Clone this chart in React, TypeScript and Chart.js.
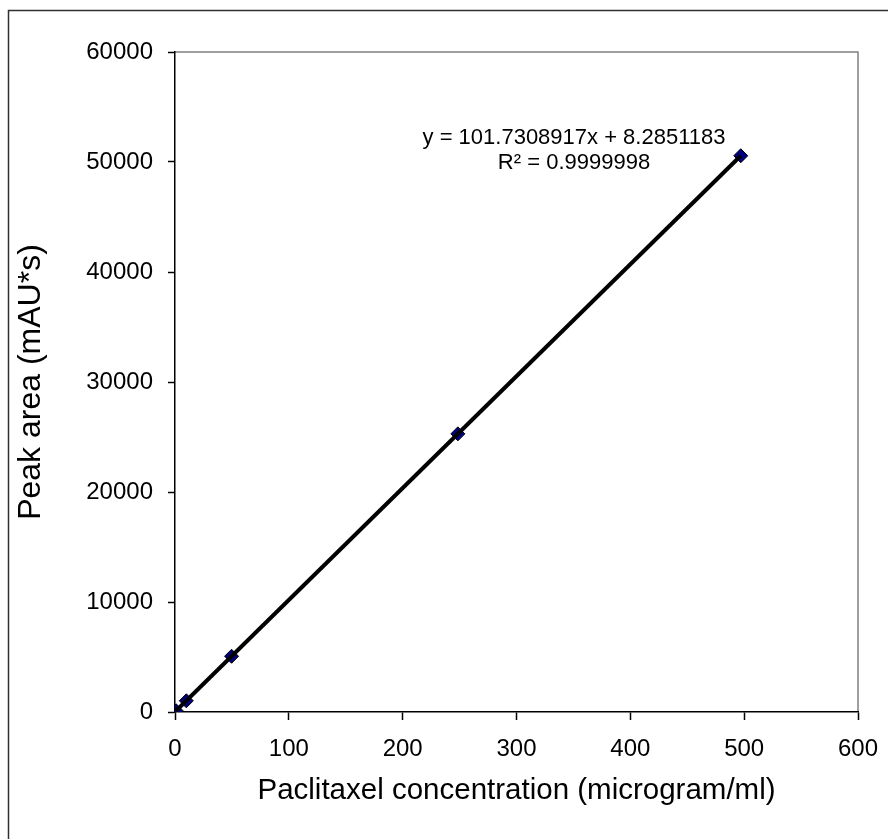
import React, { useEffect, useRef } from "react";
import { Chart, registerables } from "chart.js";

Chart.register(...registerables);

// Calibration data
const concentrations = [1, 9.94, 49.7, 248.5, 497];
const peakAreas = [110, 1019, 5064, 25288, 50568];

// Linear trendline endpoints (Excel-style fit over the data range)
const trendX = [1, 497];
const trendY = [110, 50568];

const equationLines = ["y = 101.7308917x + 8.2851183", "R\u00B2 = 0.9999998"];

const xTitle = "Paclitaxel concentration (microgram/ml)";
const yTitle = "Peak area (mAU*s)";

const FONT = "'Liberation Sans', Arial, sans-serif";

const framePlugin = {
  id: "frame",
  beforeDraw(chart: any) {
    const ctx = chart.ctx;
    ctx.save();
    ctx.fillStyle = "#ffffff";
    ctx.fillRect(0, 0, chart.width, chart.height);
    ctx.strokeStyle = "#303030";
    ctx.lineWidth = 1.5;
    ctx.beginPath();
    ctx.moveTo(8.5, chart.height + 5);
    ctx.lineTo(8.5, 10.5);
    ctx.lineTo(chart.width + 5, 10.5);
    ctx.stroke();
    const a = chart.chartArea;
    ctx.strokeStyle = "#808080";
    ctx.lineWidth = 1.5;
    ctx.beginPath();
    ctx.moveTo(a.left, a.top);
    ctx.lineTo(a.right, a.top);
    ctx.lineTo(a.right, a.bottom);
    ctx.stroke();
    ctx.restore();
  },
  afterDraw(chart: any) {
    const ctx = chart.ctx;
    ctx.save();
    ctx.fillStyle = "#000000";
    ctx.font = `22px ${FONT}`;
    ctx.textAlign = "center";
    ctx.textBaseline = "middle";
    const cx = 574;
    ctx.fillText(equationLines[0], cx, 138);
    ctx.fillText(equationLines[1], cx, 163);
    ctx.restore();
  },
};

export default function App() {
  const ref = useRef<HTMLCanvasElement>(null);
  useEffect(() => {
    if (!ref.current) return;
    const chart = new Chart(ref.current, {
      type: "scatter",
      data: {
        datasets: [
          {
            type: "line",
            label: "Trendline",
            data: trendX.map((x, i) => ({ x, y: trendY[i] })),
            borderColor: "#000000",
            borderWidth: 4,
            pointRadius: 0,
            fill: false,
            order: 0,
          },
          {
            label: "Peak area",
            data: concentrations.map((x, i) => ({ x, y: peakAreas[i] })),
            pointStyle: "rectRot",
            pointRadius: 7,
            backgroundColor: "#000080",
            borderColor: "#000000",
            borderWidth: 1,
            order: 1,
          },
        ],
      },
      options: {
        responsive: false,
        animation: false,
        layout: { padding: { left: 0, top: 52, right: 30, bottom: 0 } },
        plugins: {
          legend: { display: false },
          tooltip: { enabled: false },
        },
        scales: {
          x: {
            type: "linear",
            min: 0,
            max: 600,
            ticks: {
              stepSize: 100,
              color: "#000000",
              font: { family: FONT, size: 24 },
              padding: 15,
              callback: (v: any) => String(v),
            },
            grid: {
              drawOnChartArea: false,
              drawTicks: true,
              tickLength: 8,
              tickColor: "#000000",
              tickWidth: 1.5,
            },
            border: { color: "#000000", width: 1.5 },
            title: {
              display: true,
              text: xTitle,
              color: "#000000",
              font: { family: FONT, size: 29.5 },
              padding: { top: 0, bottom: 30 },
            },
            afterFit: (s: any) => {
              s.height = 127;
              s.paddingRight = 0;
              s.paddingLeft = 0;
            },
          },
          y: {
            type: "linear",
            min: 0,
            max: 60000,
            ticks: {
              stepSize: 10000,
              color: "#000000",
              font: { family: FONT, size: 24 },
              padding: 15,
              callback: (v: any) => String(v),
            },
            grid: {
              drawOnChartArea: false,
              drawTicks: true,
              tickLength: 7,
              tickColor: "#000000",
              tickWidth: 1.5,
            },
            border: { color: "#000000", width: 1.5 },
            title: {
              display: true,
              text: yTitle,
              color: "#000000",
              font: { family: FONT, size: 32 },
              padding: { top: 12, bottom: 0 },
            },
            afterFit: (s: any) => {
              s.width = 175;
            },
          },
        },
      },
      plugins: [framePlugin],
    });
    return () => chart.destroy();
  }, []);
  return (
    <div style={{ position: "absolute", left: 0, top: 0, width: 888, height: 839 }}>
      <canvas ref={ref} width={888} height={839} style={{ display: "block" }} />
    </div>
  );
}
